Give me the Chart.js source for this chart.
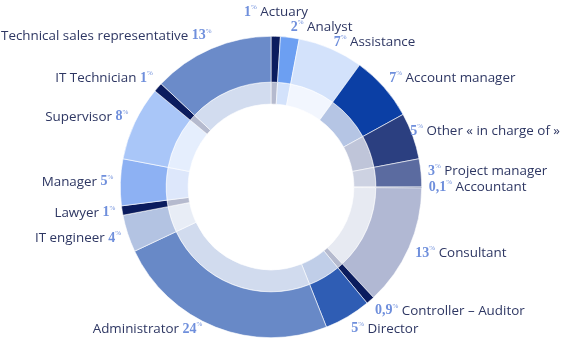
<!DOCTYPE html>
<html>
<head>
<meta charset="utf-8">
<script src="https://cdn.jsdelivr.net/npm/chart.js@4.4.0/dist/chart.umd.min.js"></script>
<style>
  body { margin: 0; background: #fff; }
</style>
</head>
<body>
<canvas id="jobs" width="561" height="340"></canvas>
<script>
// Job titles, clockwise from the top
var jobLabels = ['Actuary', 'Analyst', 'Assistance', 'Account manager', 'Other « in charge of »',
  'Project manager', 'Accountant', 'Consultant', 'Controller – Auditor', 'Director',
  'Administrator', 'IT engineer', 'Lawyer', 'Manager', 'Supervisor', 'IT Technician',
  'Technical sales representative'];
var jobShares = [1, 2, 7, 7, 5, 3, 0.1, 13, 0.9, 5, 24, 4, 1, 5, 8, 1, 13];
var jobColors = ['#0b1c5e', '#6c9ff2', '#d3e2fb', '#0b3fa5', '#2b3f80', '#5b6ba0', '#0b1c5e',
  '#b1b8d3', '#0b1c5e', '#2f5db4', '#6889c7', '#b3c3e2', '#0b1c5e', '#8db1f3', '#a9c6f8',
  '#0b1c5e', '#6b8bc9'];

function fade(hex, a) {
  var r = parseInt(hex.substr(1, 2), 16), g = parseInt(hex.substr(3, 2), 16), b = parseInt(hex.substr(5, 2), 16);
  return 'rgba(' + r + ',' + g + ',' + b + ',' + a + ')';
}

var NUM_FONT = 'bold 14px "Liberation Serif"';
var PCT_FONT = '7px "Liberation Serif"';
var TXT_FONT = '13.4px "Open Sans"';
var NUM_COLOR = '#6f8fdc';
var TXT_COLOR = '#2e3763';

// labels around the ring: "12% Label" on the right, "Label 12%" on the left
var outerLabels = {
  id: 'outerLabels',
  afterDatasetsDraw: function (chart) {
    var ctx = chart.ctx;
    var h = chart.height;
    var meta = chart.getDatasetMeta(0);
    var items = meta.data.map(function (arc, i) {
      var p = arc.getProps(['x', 'y', 'startAngle', 'endAngle', 'outerRadius'], true);
      var a = (p.startAngle + p.endAngle) / 2;
      return { i: i, cx: p.x, cy: p.y, R: p.outerRadius, right: Math.cos(a) >= -0.001,
        rdx: Math.abs(Math.cos(a)) * (p.outerRadius + 7),
        y: p.y + Math.sin(a) * (p.outerRadius + 14) };
    });
    // spread labels on each side so they do not overlap, keep them inside the canvas
    var gap = 15, top = 12, bottom = h - 11;
    [true, false].forEach(function (side) {
      var list = items.filter(function (it) { return it.right === side; });
      list.sort(function (a, b) { return a.y - b.y; });
      for (var n = 0; n < 60; n++) {
        for (var k = 1; k < list.length; k++) {
          var over = list[k - 1].y + gap - list[k].y;
          if (over > 0) { list[k - 1].y -= over / 2; list[k].y += over / 2; }
        }
        list.forEach(function (it) { it.y = Math.max(top, Math.min(bottom, it.y)); });
      }
    });
    items.forEach(function (it) {
      var rh = it.R + 7;
      var dy = it.y - it.cy;
      var dx = Math.max(it.rdx, Math.sqrt(Math.max(0, rh * rh - dy * dy)));
      var x = it.right ? it.cx + dx : it.cx - dx;
      var num = String(jobShares[it.i]).replace('.', ',');
      var pieces;
      if (it.right) {
        pieces = [[num, NUM_FONT, NUM_COLOR, 0], ['%', PCT_FONT, NUM_COLOR, -5],
          [' ' + jobLabels[it.i], TXT_FONT, TXT_COLOR, 0]];
      } else {
        pieces = [[jobLabels[it.i] + ' ', TXT_FONT, TXT_COLOR, 0], [num, NUM_FONT, NUM_COLOR, 0],
          ['%', PCT_FONT, NUM_COLOR, -5]];
      }
      var total = 0;
      pieces.forEach(function (pc) { ctx.font = pc[1]; total += ctx.measureText(pc[0]).width; });
      var sx;
      if (dx < 10) sx = x - total / 2;
      else if (it.right) sx = x;
      else sx = x - total;
      sx = Math.max(1, Math.min(chart.width - 1 - total, sx));
      ctx.save();
      ctx.textBaseline = 'middle';
      ctx.textAlign = 'left';
      pieces.forEach(function (pc) {
        ctx.font = pc[1];
        ctx.fillStyle = pc[2];
        ctx.fillText(pc[0], sx, it.y + pc[3]);
        sx += ctx.measureText(pc[0]).width;
      });
      ctx.restore();
    });
  }
};

var jobsCtx = document.getElementById('jobs').getContext('2d');
var chart = new Chart(jobsCtx, {
  type: 'doughnut',
  data: {
    labels: jobLabels,
    datasets: [{
      data: jobShares,
      backgroundColor: jobColors,
      borderColor: '#ffffff',
      borderWidth: 0.6,
      weight: 46
    }, {
      data: jobShares,
      backgroundColor: jobColors.map(function (c) { return fade(c, 0.3); }),
      borderColor: '#ffffff',
      borderWidth: 0.6,
      weight: 22
    }]
  },
  options: {
    responsive: false,
    animation: false,
    cutout: '55%',
    layout: { padding: { left: 120, right: 139, top: 36, bottom: 2 } },
    plugins: {
      legend: { display: false },
      tooltip: { enabled: false }
    }
  },
  plugins: [outerLabels]
});
</script>
</body>
</html>
